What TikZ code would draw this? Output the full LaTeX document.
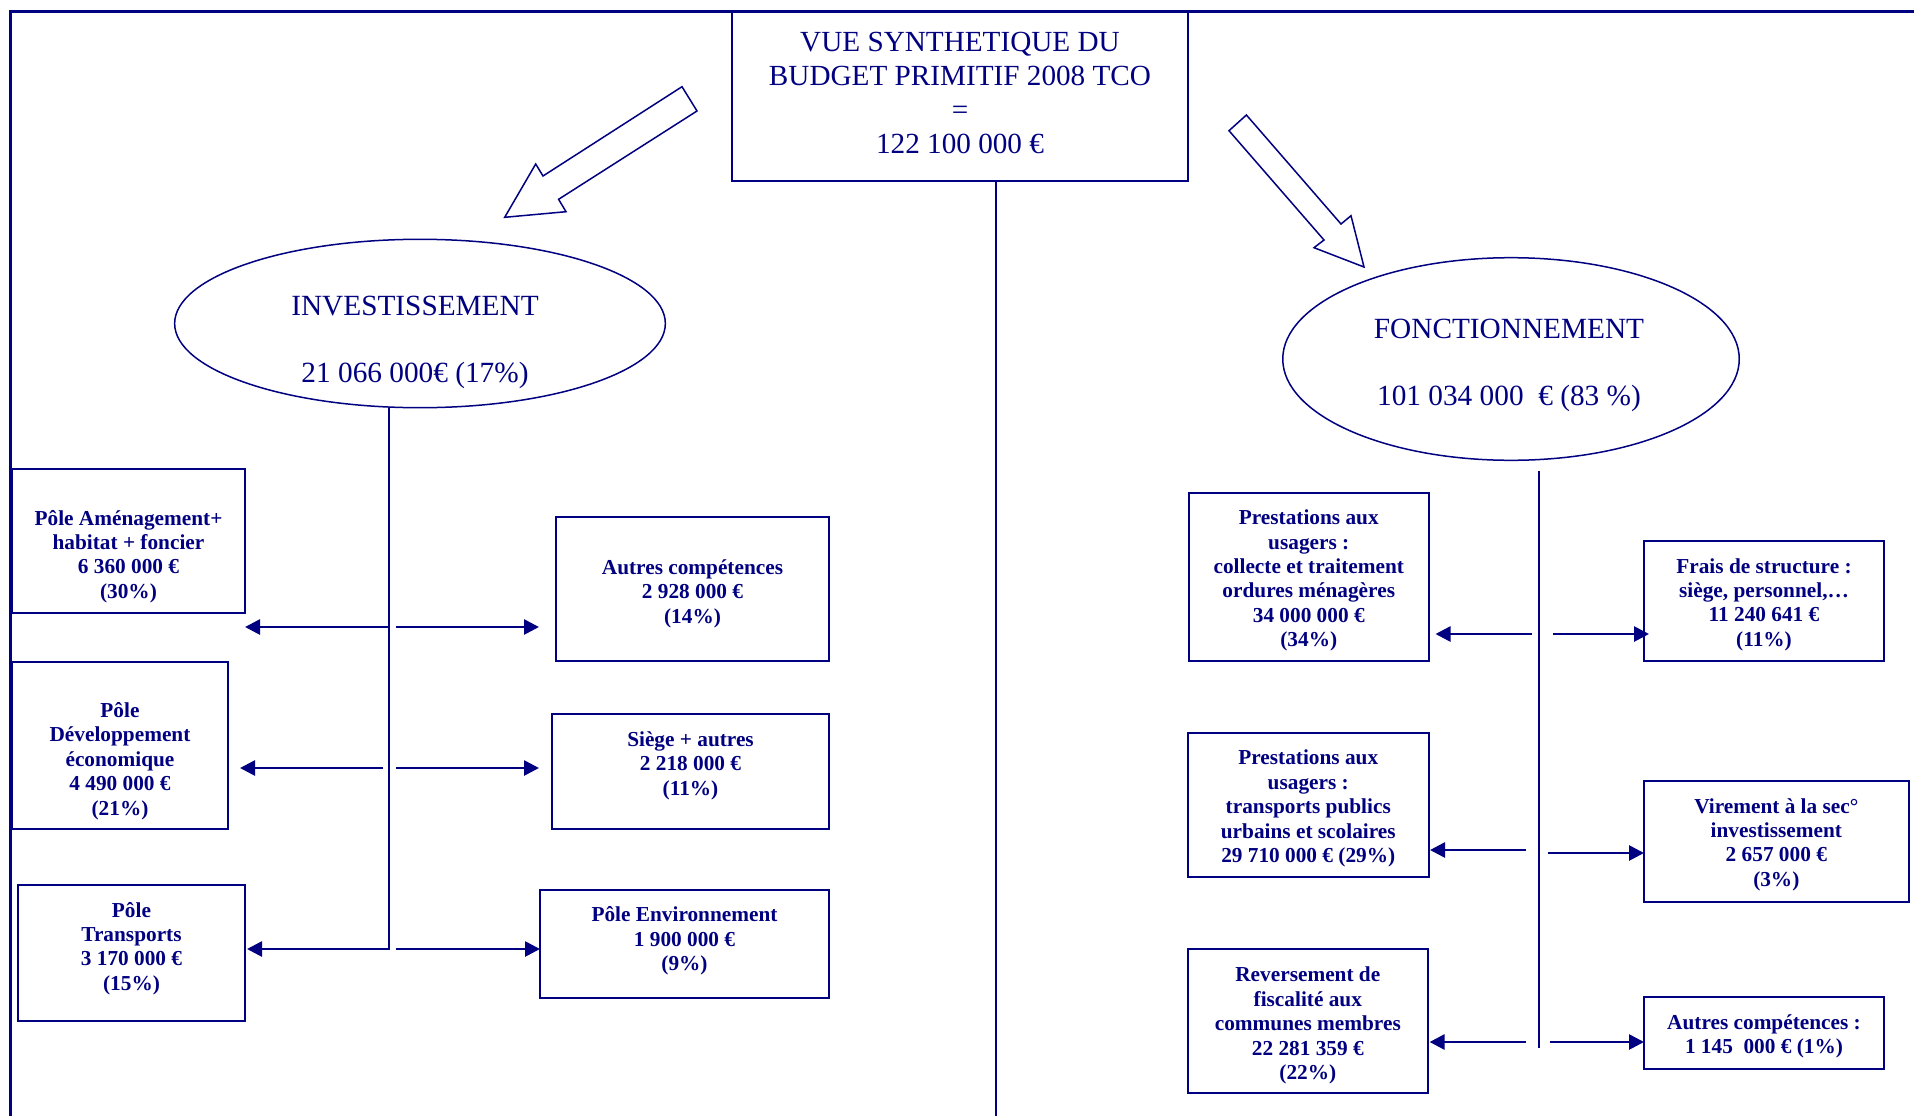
\documentclass[tikz,border=0pt]{standalone}
\usepackage{fontspec}
\setmainfont{Liberation Serif}
\usetikzlibrary{shapes.geometric,arrows.meta}
\definecolor{navy}{RGB}{0,0,128}
\begin{document}
\begin{tikzpicture}[x=1pt,y=-1pt,
  box/.style={draw=navy, line width=2pt, inner sep=0pt, outer sep=0pt},
  btxt/.style={font=\bfseries\fontsize{21.3pt}{24.4pt}\selectfont, align=center, text=navy, inner sep=0pt},
  bigtxt/.style={font=\fontsize{29.2pt}{34pt}\selectfont, align=center, text=navy, inner sep=0pt},
  elltxt/.style={font=\fontsize{29.3pt}{67pt}\selectfont, align=center, text=navy, inner sep=0pt},
  ell/.style={draw=navy, line width=1.5pt, ellipse, inner sep=0pt, outer sep=0pt},
  vline/.style={draw=navy, line width=2pt},
  arr/.style={draw=navy, line width=2.7pt, -{Triangle[length=15pt,width=15pt]}},
  blockarrow/.style={draw=navy, line width=1.5pt, fill=white, line join=miter}]
\useasboundingbox (0,0) rectangle (1914,1116);
\fill[white] (0,0) rectangle (1914,1116);
% frame
\draw[navy, line width=3pt] (10,1116) -- (10,11.5) -- (1914,11.5);
% title
\node[box, minimum width=456pt, minimum height=169pt] (title) at (960,96.5) {};
\node[bigtxt] (ttitle) at (960,93) {VUE SYNTHETIQUE DU\\BUDGET PRIMITIF 2008 TCO\\=\\122 100 000 €};
\coordinate (cbot) at (996,1116);
\draw[vline] (title.south -| cbot) -- (cbot);
% block arrows
\draw[blockarrow] (682,86.7) -- (697,111) -- (558.6,199.3) -- (566,211.7) -- (504.7,217.3) -- (535.7,164) -- (543,176) -- cycle;
\draw[blockarrow] (1229,130.7) -- (1246.4,115) -- (1341,224) -- (1351,215.7) -- (1364,267) -- (1314,247.7) -- (1324,240) -- cycle;
% ellipses
\node[ell, minimum width=490.7pt, minimum height=168.4pt] (inv) at (420,323.5) {};
\node[elltxt] (tinv) at (415,342) {INVESTISSEMENT\\21 066 000€ (17\%)};
\node[ell, minimum width=456.5pt, minimum height=202.6pt] (fonc) at (1511,359) {};
\node[elltxt] (tfonc) at (1509,365) {FONCTIONNEMENT\\101 034 000\ \ € (83 \%)};
% left boxes
\node[box, minimum width=233pt, minimum height=144pt] (b1) at (128.5,541) {};
\node[btxt] (t1) at (128.5,556.5) {Pôle Aménagement+\\habitat + foncier\\6 360 000 €\\(30\%)};
\node[box, minimum width=216pt, minimum height=167pt] (b2) at (120,745.5) {};
\node[btxt] (t2) at (120,761) {Pôle\\Développement\\économique\\4 490 000 €\\(21\%)};
\node[box, minimum width=227pt, minimum height=136pt] (b3) at (131.5,953) {};
\node[btxt] (t3) at (131.5,948.5) {Pôle\\Transports\\3 170 000 €\\(15\%)};
\node[box, minimum width=273pt, minimum height=144pt] (b4) at (692.5,589) {};
\node[btxt] (t4) at (692.5,593.5) {Autres compétences\\2 928 000 €\\(14\%)};
\node[box, minimum width=277pt, minimum height=115pt] (b5) at (690.5,771.5) {};
\node[btxt] (t5) at (690.5,765.5) {Siège + autres\\2 218 000 €\\(11\%)};
\node[box, minimum width=289pt, minimum height=108pt] (b6) at (684.5,944) {};
\node[btxt] (t6) at (684.5,941) {Pôle Environnement\\1 900 000 €\\(9\%)};
% right boxes
\node[box, minimum width=239.5pt, minimum height=168pt] (b7) at (1308.75,577) {};
\node[btxt] (t7) at (1308.75,580.5) {Prestations aux\\usagers :\\collecte et traitement\\ordures ménagères\\34 000 000 €\\(34\%)};
\node[box, minimum width=240.5pt, minimum height=144pt] (b8) at (1308.25,805) {};
\node[btxt] (t8) at (1308.25,808.5) {Prestations aux\\usagers :\\transports publics\\urbains et scolaires\\29 710 000 € (29\%)};
\node[box, minimum width=239.6pt, minimum height=144pt] (b9) at (1307.8,1021) {};
\node[btxt] (t9) at (1307.8,1025.5) {Reversement de\\fiscalité aux\\communes membres\\22 281 359 €\\(22\%)};
\node[box, minimum width=240pt, minimum height=120pt] (b10) at (1764,601) {};
\node[btxt] (t10) at (1764,604.5) {Frais de structure :\\siège, personnel,…\\11 240 641 €\\(11\%)};
\node[box, minimum width=264.6pt, minimum height=121pt] (b11) at (1776.3,841.5) {};
\node[btxt] (t11) at (1776.3,844.5) {Virement à la sec°\\investissement\\2 657 000 €\\(3\%)};
\node[box, minimum width=240pt, minimum height=72pt] (b12) at (1764,1033) {};
\node[btxt] (t12) at (1764,1036.5) {Autres compétences :\\1 145\ \ 000 € (1\%)};
% left trunk
\coordinate (lvbot) at (389,949);
\draw[vline] (inv.south -| lvbot) -- (lvbot);
% right trunk
\coordinate (rvtop) at (1538.5,471);
\coordinate (rvbot) at (1538.5,1048);
\draw[vline] (rvtop) -- (rvbot);
% left arrows
\coordinate (a1) at (389,627);   \draw[arr] (a1) -- (b1.east |- a1);
\coordinate (a2) at (396,627);   \draw[arr, shorten >=17pt] (a2) -- (b4.west |- a2);
\coordinate (a3) at (383,768);   \draw[arr, shorten >=12pt] (a3) -- (b2.east |- a3);
\coordinate (a4) at (396,768);   \draw[arr, shorten >=13pt] (a4) -- (b5.west |- a4);
\coordinate (a5) at (390,949);   \draw[arr, shorten >=2pt] (a5) -- (b3.east |- a5);
\coordinate (a6) at (396,949);   \draw[arr] (a6) -- (b6.west |- a6);
% right arrows
\coordinate (a7) at (1531.5,634); \draw[arr, shorten >=7pt] (a7) -- (b7.east |- a7);
\coordinate (a8) at (1553,634);   \draw[arr, shorten >=-5pt] (a8) -- (b10.west |- a8);
\coordinate (a9) at (1526,850);   \draw[arr, shorten >=1.5pt] (a9) -- (b8.east |- a9);
\coordinate (a10) at (1548,853);  \draw[arr] (a10) -- (b11.west |- a10);
\coordinate (a11) at (1526,1042); \draw[arr, shorten >=2pt] (a11) -- (b9.east |- a11);
\coordinate (a12) at (1549.5,1042); \draw[arr] (a12) -- (b12.west |- a12);
\end{tikzpicture}
\end{document}
